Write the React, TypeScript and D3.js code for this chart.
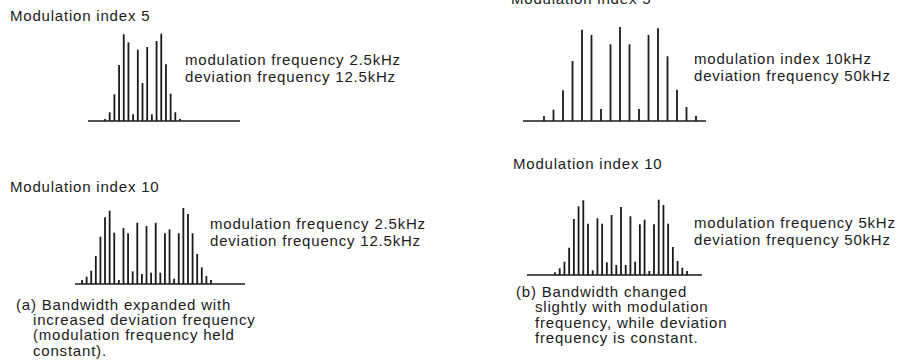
import React from "react";
import * as d3 from "d3";

// Spectral line amplitudes (in px-equivalent units 0..100)
const topLeftAmps = [2, 8.7, 26.7, 56, 86.7, 78.7, 6.7, 71.3, 38, 74, 6.7, 80, 87.3, 56.7, 27.3, 8.7, 2];
const topRightAmps = [5, 11.3, 30.7, 60, 91.3, 86, 12, 76.7, 94, 76.7, 12, 86, 92.7, 64.7, 31.3, 14, 5.3];
const bottomLeftAmps = [4, 7.3, 13.3, 28, 47.3, 66.7, 73.3, 51.3, 4, 56, 50.7, 12.7, 61.3, 10, 58, 11.3, 61.3, 11.3, 50.7, 54.7, 5.3, 50.7, 76, 70, 50.7, 30, 16.7, 8, 4];
const bottomRightAmps = [2.7, 6.7, 13.3, 27.3, 56, 68.7, 74.7, 51.3, 4.7, 56.7, 51.3, 12.7, 60, 10, 68, 10, 58.7, 13.3, 50.7, 55.3, 4, 50.7, 75.3, 70, 51.3, 28, 14, 7.3, 4];

const titles = ["Modulation index 5", "Modulation index 5", "Modulation index 10", "Modulation index 10"];
const topLeftNotes = ["modulation frequency 2.5kHz", "deviation frequency 12.5kHz"];
const topRightNotes = ["modulation index 10kHz", "deviation frequency 50kHz"];
const bottomLeftNotes = ["modulation frequency 2.5kHz", "deviation frequency 12.5kHz"];
const bottomRightNotes = ["modulation frequency 5kHz", "deviation frequency 50kHz"];
const captionA = ["(a) Bandwidth expanded with", "increased deviation frequency", "(modulation frequency held", "constant)."];
const captionB = ["(b) Bandwidth changed", "slightly with modulation", "frequency, while deviation", "frequency is constant."];

const FONT = "'Liberation Sans', Arial, Helvetica, sans-serif";
const INK = "#1a1a1a";
const FS = 15;
const LS = 0.8;

type PanelProps = {
  amps: number[];
  baseY: number;
  x0: number;
  x1: number;
  lineX0: number;
  lineX1: number;
};

function Spectrum({ amps, baseY, x0, x1, lineX0, lineX1 }: PanelProps) {
  const half = (amps.length - 1) / 2;
  const x = d3.scaleLinear().domain([-half, half]).range([x0, x1]);
  const y = d3.scaleLinear().domain([0, 100]).range([baseY, baseY - 100]);
  return (
    <g>
      <line x1={lineX0} x2={lineX1} y1={baseY} y2={baseY} stroke={INK} strokeWidth={1.4} />
      {amps.map((a, i) => (
        <line
          key={i}
          x1={x(i - half)}
          x2={x(i - half)}
          y1={y(0)}
          y2={y(a)}
          stroke={INK}
          strokeWidth={1.8}
        />
      ))}
    </g>
  );
}

function TextLines({ lines, x, y, dy, indent = 0 }: { lines: string[]; x: number; y: number; dy: number; indent?: number }) {
  return (
    <g fontFamily={FONT} fontSize={FS} fill={INK} style={{ letterSpacing: `${LS}px` }}>
      {lines.map((t, i) => (
        <text key={i} x={i === 0 ? x : x + indent} y={y + i * dy}>
          {t}
        </text>
      ))}
    </g>
  );
}

export default function App() {
  return (
    <svg
      width={904}
      height={360}
      style={{ position: "absolute", left: 0, top: 0, background: "#fff" }}
    >
      <rect width={904} height={360} fill="#fff" />
      {/* Titles */}
      <TextLines lines={[titles[0]]} x={10} y={21} dy={0} />
      <TextLines lines={[titles[1]]} x={511} y={4} dy={0} />
      <TextLines lines={[titles[2]]} x={10} y={192} dy={0} />
      <TextLines lines={[titles[3]]} x={513} y={169} dy={0} />

      {/* Spectra */}
      <Spectrum amps={topLeftAmps} baseY={121} x0={105} x1={180} lineX0={88} lineX1={240} />
      <Spectrum amps={topRightAmps} baseY={121} x0={544} x1={696} lineX0={523} lineX1={706} />
      <Spectrum amps={bottomLeftAmps} baseY={284} x0={82} x1={211} lineX0={75} lineX1={245} />
      <Spectrum amps={bottomRightAmps} baseY={275} x0={555} x1={687} lineX0={527} lineX1={702} />

      {/* Notes */}
      <TextLines lines={topLeftNotes} x={185} y={65} dy={16.5} />
      <TextLines lines={topRightNotes} x={694} y={64} dy={16.5} />
      <TextLines lines={bottomLeftNotes} x={210} y={229} dy={17} />
      <TextLines lines={bottomRightNotes} x={694} y={228} dy={17} />

      {/* Captions */}
      <TextLines lines={captionA} x={16} y={310} dy={15.2} indent={17} />
      <TextLines lines={captionB} x={516} y={297} dy={15.3} indent={19} />
    </svg>
  );
}
